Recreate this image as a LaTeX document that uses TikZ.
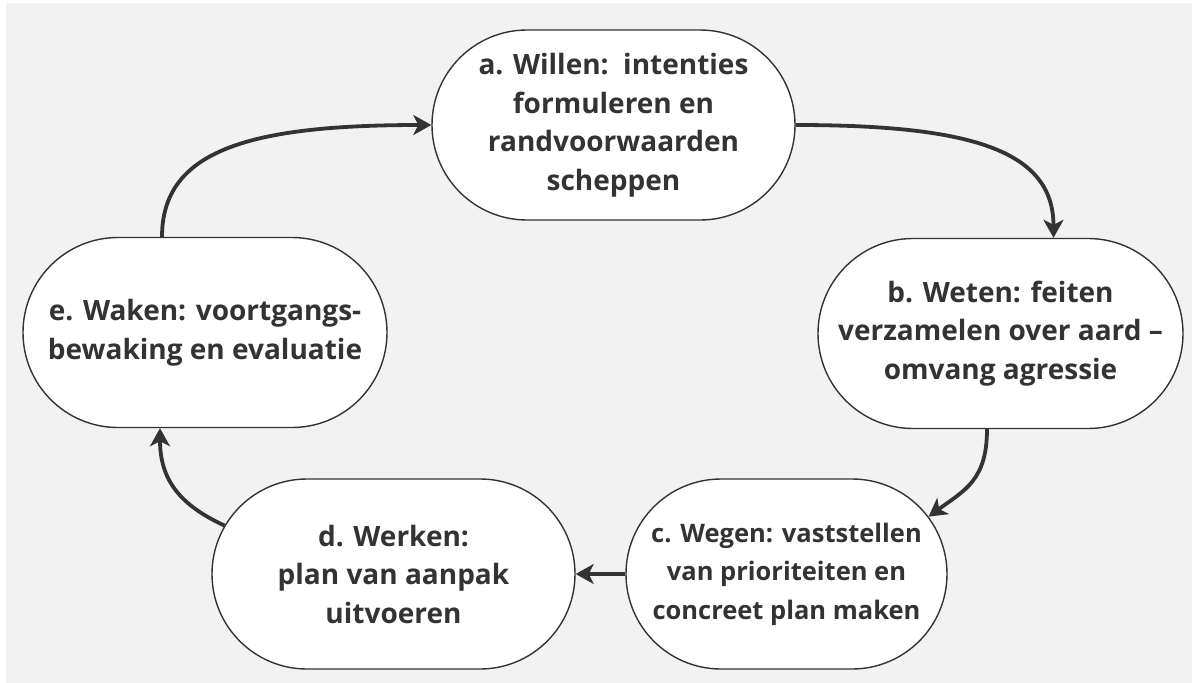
\documentclass[tikz,border=0pt]{standalone}
\usepackage{fontspec}
\setmainfont{Open Sans}
\usetikzlibrary{arrows.meta,shapes.misc}
\definecolor{bggray}{HTML}{F2F2F2}
\definecolor{ink}{HTML}{333333}
\begin{document}
\begin{tikzpicture}[x=1pt,y=-1pt,
  stage/.style={rounded rectangle, draw=ink, line width=1.4pt, fill=white,
    minimum height=190pt, inner sep=0pt, align=center, text=ink,
    font=\fontsize{28}{38.5}\selectfont\bfseries},
  smalltext/.style={font=\fontsize{25.5}{38.5}\selectfont\bfseries},
  flow/.style={draw=ink, line width=3.8pt,
    -{Stealth[length=18pt,width=20pt,inset=5pt]}}]
\useasboundingbox (0,0) rectangle (1192,683);
\fill[white] (0,0) rectangle (1192,683);
\fill[bggray] (6,3) rectangle (1192,683);

\node[stage, minimum width=363pt] (a) at (613.5,125) {a. Willen:\ \ intenties\\formuleren en\\randvoorwaarden\\scheppen};
\node[stage, minimum width=365pt] (b) at (1000.5,333.5) {b. Weten: feiten\\verzamelen over aard –\\omvang agressie};
\node[stage, smalltext, minimum width=321pt] (c) at (786.5,574) {c. Wegen: vaststellen\\van prioriteiten en\\concreet plan maken};
\node[stage, minimum width=363pt] (d) at (393.5,574) {d. Werken:\\plan van aanpak\\uitvoeren};
\node[stage, minimum width=364pt] (e) at (205,332.5) {e. Waken: voortgangs-\\bewaking en evaluatie};

\draw[flow] ([xshift=-43pt]e.north) .. controls (162,150) and (250,125) .. (a.west);
\draw[flow] (a.east) .. controls (970,125) and (1053.5,150) .. ([xshift=53pt]b.north);
\draw[flow] ([xshift=-13.5pt]b.south) .. controls (987,480) and (965,490) .. (c.22);
\draw[flow] (c.west) -- (d.east);
\draw[flow] (d.164) .. controls (180,505) and (160,480) .. ([xshift=-45pt]e.south);
\end{tikzpicture}
\end{document}
